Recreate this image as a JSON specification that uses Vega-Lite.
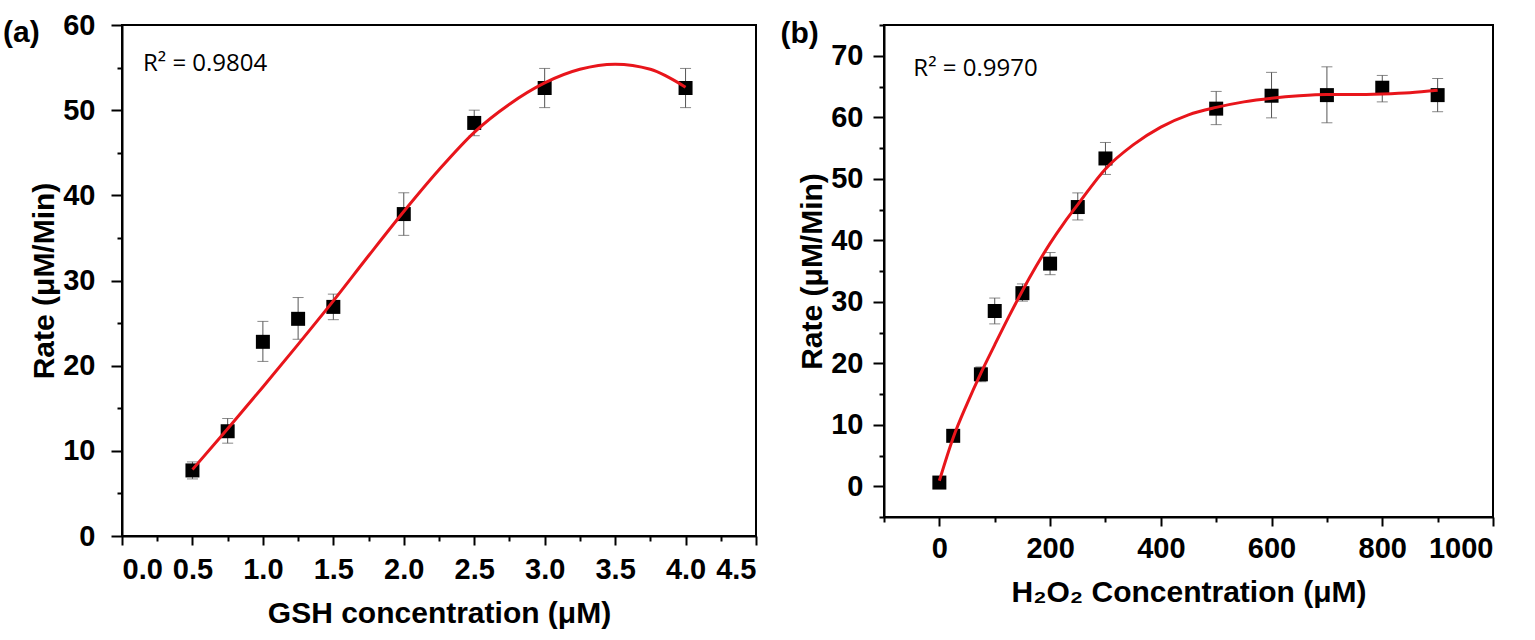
{
  "$schema": "https://vega.github.io/schema/vega-lite/v6.json",
  "background": "white",
  "autosize": {"type": "pad"},
  "padding": {"left": 2, "top": 10, "right": 0, "bottom": 0},
  "datasets": {
    "a_pts": [
      {"x": 0.5, "y": 7.7, "lo": 6.7, "hi": 8.7},
      {"x": 0.75, "y": 12.3, "lo": 10.9, "hi": 13.8},
      {"x": 1.0, "y": 22.8, "lo": 20.5, "hi": 25.2},
      {"x": 1.25, "y": 25.5, "lo": 23.1, "hi": 28.0},
      {"x": 1.5, "y": 26.9, "lo": 25.4, "hi": 28.4},
      {"x": 2.0, "y": 37.8, "lo": 35.3, "hi": 40.3},
      {"x": 2.5, "y": 48.5, "lo": 47.0, "hi": 50.0},
      {"x": 3.0, "y": 52.6, "lo": 50.3, "hi": 54.9},
      {"x": 4.0, "y": 52.6, "lo": 50.3, "hi": 54.9}
    ],
    "a_fit": [
      {"x": 0.5, "y": 7.8}, {"x": 0.75, "y": 12.6}, {"x": 1.0, "y": 17.5},
      {"x": 1.25, "y": 22.5}, {"x": 1.5, "y": 27.6}, {"x": 1.75, "y": 32.9},
      {"x": 2.0, "y": 38.1}, {"x": 2.25, "y": 43.0}, {"x": 2.5, "y": 47.4},
      {"x": 2.75, "y": 50.7}, {"x": 3.0, "y": 53.2}, {"x": 3.25, "y": 54.8},
      {"x": 3.5, "y": 55.4}, {"x": 3.75, "y": 54.8}, {"x": 4.0, "y": 52.7}
    ],
    "b_pts": [
      {"x": 0, "y": 0.6, "lo": 0.0, "hi": 1.2},
      {"x": 25, "y": 8.2, "lo": 7.4, "hi": 9.0},
      {"x": 75, "y": 18.2, "lo": 17.0, "hi": 19.4},
      {"x": 100, "y": 28.5, "lo": 26.4, "hi": 30.6},
      {"x": 150, "y": 31.4, "lo": 30.1, "hi": 32.9},
      {"x": 200, "y": 36.2, "lo": 34.4, "hi": 38.0},
      {"x": 250, "y": 45.4, "lo": 43.3, "hi": 47.7},
      {"x": 300, "y": 53.3, "lo": 50.7, "hi": 55.9},
      {"x": 500, "y": 61.4, "lo": 58.8, "hi": 64.2},
      {"x": 600, "y": 63.5, "lo": 59.9, "hi": 67.3},
      {"x": 700, "y": 63.6, "lo": 59.1, "hi": 68.2},
      {"x": 800, "y": 64.8, "lo": 62.5, "hi": 66.8},
      {"x": 900, "y": 63.6, "lo": 60.9, "hi": 66.3}
    ],
    "b_fit": [
      {"x": 0, "y": 0.9}, {"x": 25, "y": 7.9}, {"x": 50, "y": 13.4},
      {"x": 75, "y": 18.4}, {"x": 100, "y": 23.0}, {"x": 125, "y": 27.5},
      {"x": 150, "y": 31.8}, {"x": 175, "y": 35.8}, {"x": 200, "y": 39.5},
      {"x": 225, "y": 42.8}, {"x": 250, "y": 45.8}, {"x": 300, "y": 51.6},
      {"x": 350, "y": 55.5}, {"x": 400, "y": 58.4}, {"x": 450, "y": 60.4},
      {"x": 500, "y": 61.6}, {"x": 550, "y": 62.5}, {"x": 600, "y": 63.1},
      {"x": 650, "y": 63.5}, {"x": 700, "y": 63.7}, {"x": 750, "y": 63.7},
      {"x": 800, "y": 63.8}, {"x": 850, "y": 64.0}, {"x": 900, "y": 64.4}
    ],
    "one": [{}]
  },
  "spacing": 128,
  "bounds": "flush",
  "hconcat": [
    {
      "width": 634,
      "height": 511,
      "layer": [
        {
          "data": {"name": "a_pts"},
          "mark": {"type": "errorbar", "ticks": {"size": 11, "thickness": 1, "color": "#555555"}, "rule": {"strokeWidth": 1, "color": "#555555"}},
          "encoding": {
            "x": {
              "field": "x", "type": "quantitative", "title": "GSH concentration (μM)",
              "scale": {"domain": [0, 4.5], "nice": false, "zero": false},
              "axis": {
                "values": [0, 0.25, 0.5, 0.75, 1, 1.25, 1.5, 1.75, 2, 2.25, 2.5, 2.75, 3, 3.25, 3.5, 3.75, 4, 4.25, 4.5],
                "tickCount": 50,
                "labelExpr": "(datum.value * 2) % 1 == 0 ? format(datum.value, '.1f') : ''",
                "tickSize": {"condition": {"test": "(datum.value * 2) % 1 == 0", "value": 9}, "value": 5},
                "labelPadding": 10, "titlePadding": 14
              }
            },
            "y": {
              "field": "lo", "type": "quantitative", "title": "Rate (μM/Min)",
              "scale": {"domain": [0, 60], "nice": false, "zero": false},
              "axis": {
                "values": [0, 5, 10, 15, 20, 25, 30, 35, 40, 45, 50, 55, 60],
                "tickCount": 50,
                "labelExpr": "datum.value % 10 == 0 ? datum.label : ''",
                "tickSize": {"condition": {"test": "datum.value % 10 == 0", "value": 11}, "value": 5},
                "labelPadding": 16, "titlePadding": 3
              }
            },
            "y2": {"field": "hi"}
          }
        },
        {
          "data": {"name": "a_pts"},
          "mark": {"type": "point", "shape": "square", "filled": true, "size": 196, "color": "black", "opacity": 1},
          "encoding": {
            "x": {"field": "x", "type": "quantitative", "title": "GSH concentration (μM)"},
            "y": {"field": "y", "type": "quantitative", "title": "Rate (μM/Min)"}
          }
        },
        {
          "data": {"name": "a_fit"},
          "mark": {"type": "line", "color": "#e8151b", "strokeWidth": 3, "interpolate": "monotone"},
          "encoding": {
            "x": {"field": "x", "type": "quantitative", "title": "GSH concentration (μM)"},
            "y": {"field": "y", "type": "quantitative", "title": "Rate (μM/Min)"}
          }
        },
        {
          "data": {"name": "one"},
          "mark": {"type": "text", "font": "Open Sans", "fontSize": 24, "align": "left", "baseline": "alphabetic", "color": "black"},
          "encoding": {
            "x": {"datum": 0.149, "type": "quantitative"},
            "y": {"datum": 54.6, "type": "quantitative"},
            "text": {"value": "R² = 0.9804"}
          }
        },
        {
          "data": {"name": "one"},
          "mark": {"type": "text", "font": "Liberation Sans", "fontWeight": "bold", "fontSize": 30, "align": "left", "baseline": "alphabetic", "color": "black"},
          "encoding": {
            "x": {"datum": -0.844, "type": "quantitative"},
            "y": {"datum": 58, "type": "quantitative"},
            "text": {"value": "(a)"}
          }
        }
      ]
    },
    {
      "width": 609,
      "height": 492,
      "layer": [
        {
          "data": {"name": "b_pts"},
          "mark": {"type": "errorbar", "ticks": {"size": 11, "thickness": 1, "color": "#555555"}, "rule": {"strokeWidth": 1, "color": "#555555"}},
          "encoding": {
            "x": {
              "field": "x", "type": "quantitative", "title": "H₂O₂ Concentration (μM)",
              "scale": {"domain": [-100, 1000], "nice": false, "zero": false},
              "axis": {
                "values": [-100, 0, 100, 200, 300, 400, 500, 600, 700, 800, 900, 1000],
                "tickCount": 50,
                "format": "d",
                "labelExpr": "datum.value % 200 == 0 ? datum.label : ''",
                "tickSize": {"condition": {"test": "datum.value % 200 == 0", "value": 9}, "value": 5},
                "labelPadding": 8, "titlePadding": 14
              }
            },
            "y": {
              "field": "lo", "type": "quantitative", "title": "Rate (μM/Min)",
              "scale": {"domain": [-5, 75], "nice": false, "zero": false},
              "axis": {
                "values": [-5, 0, 5, 10, 15, 20, 25, 30, 35, 40, 45, 50, 55, 60, 65, 70, 75],
                "tickCount": 50,
                "labelExpr": "datum.value % 10 == 0 ? datum.label : ''",
                "tickSize": {"condition": {"test": "datum.value % 10 == 0", "value": 11}, "value": 5},
                "labelPadding": 10, "titlePadding": 3
              }
            },
            "y2": {"field": "hi"}
          }
        },
        {
          "data": {"name": "b_pts"},
          "mark": {"type": "point", "shape": "square", "filled": true, "size": 196, "color": "black", "opacity": 1},
          "encoding": {
            "x": {"field": "x", "type": "quantitative", "title": "H₂O₂ Concentration (μM)"},
            "y": {"field": "y", "type": "quantitative", "title": "Rate (μM/Min)"}
          }
        },
        {
          "data": {"name": "b_fit"},
          "mark": {"type": "line", "color": "#e8151b", "strokeWidth": 3, "interpolate": "monotone"},
          "encoding": {
            "x": {"field": "x", "type": "quantitative", "title": "H₂O₂ Concentration (μM)"},
            "y": {"field": "y", "type": "quantitative", "title": "Rate (μM/Min)"}
          }
        },
        {
          "data": {"name": "one"},
          "mark": {"type": "text", "font": "Open Sans", "fontSize": 24, "align": "left", "baseline": "alphabetic", "color": "black"},
          "encoding": {
            "x": {"datum": -47, "type": "quantitative"},
            "y": {"datum": 66.7, "type": "quantitative"},
            "text": {"value": "R² = 0.9970"}
          }
        },
        {
          "data": {"name": "one"},
          "mark": {"type": "text", "font": "Liberation Sans", "fontWeight": "bold", "fontSize": 30, "align": "left", "baseline": "alphabetic", "color": "black"},
          "encoding": {
            "x": {"datum": -287, "type": "quantitative"},
            "y": {"datum": 72, "type": "quantitative"},
            "text": {"value": "(b)"}
          }
        }
      ]
    }
  ],
  "config": {
    "view": {"stroke": "black", "strokeWidth": 2},
    "axis": {
      "grid": false,
      "labelOverlap": false,
      "domainColor": "black",
      "domainWidth": 2,
      "tickColor": "black",
      "tickWidth": 2,
      "labelFont": "Liberation Sans",
      "labelFontWeight": "bold",
      "labelFontSize": 29,
      "labelColor": "black",
      "titleFont": "Liberation Sans",
      "titleFontWeight": "bold",
      "titleFontSize": 30,
      "titleColor": "black"
    }
  }
}
